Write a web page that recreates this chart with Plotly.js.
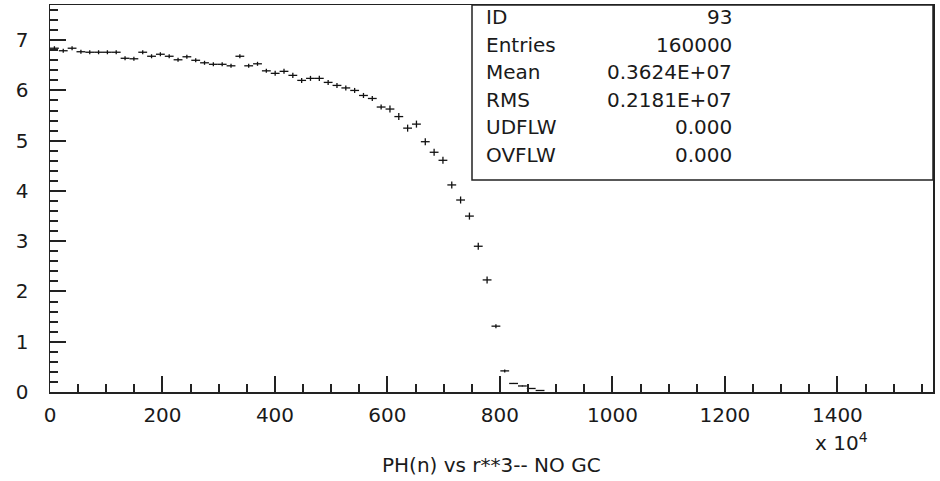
<!DOCTYPE html>
<html>
<head>
<meta charset="utf-8">
<script src="https://cdn.plot.ly/plotly-3.0.1.min.js"></script>
<style>
html,body{margin:0;padding:0;background:#fff;}
#chart{width:940px;height:481px;}
</style>
</head>
<body>
<div id="chart"></div>
<script>
var binCenters = [7.85,23.55,39.25,54.95,70.65,86.35,102.05,117.75,133.45,149.15,
  164.85,180.55,196.25,211.95,227.65,243.35,259.05,274.75,290.45,306.15,
  321.85,337.55,353.25,368.95,384.65,400.35,416.05,431.75,447.45,463.15,
  478.85,494.55,510.25,525.95,541.65,557.35,573.05,588.75,604.45,620.15,
  635.85,651.55,667.25,682.95,698.65,714.35,730.05,745.75,761.45,777.15,
  792.85,808.55,824.25,839.95,855.65,871.35];
var contents = [6.84,6.79,6.84,6.77,6.76,6.76,6.76,6.76,6.64,6.63,
  6.76,6.68,6.72,6.68,6.61,6.67,6.60,6.55,6.52,6.52,
  6.49,6.68,6.49,6.53,6.39,6.34,6.38,6.30,6.20,6.24,
  6.24,6.16,6.10,6.05,6.00,5.90,5.84,5.67,5.63,5.48,
  5.25,5.33,4.98,4.77,4.61,4.12,3.82,3.50,2.90,2.23,
  1.31,0.42,0.17,0.12,0.07,0.03];
var errors = [0.04,0.04,0.04,0.04,0.04,0.04,0.04,0.04,0.04,0.04,
  0.04,0.04,0.04,0.04,0.04,0.04,0.04,0.04,0.04,0.04,
  0.04,0.04,0.04,0.04,0.04,0.05,0.05,0.05,0.05,0.05,
  0.05,0.05,0.05,0.05,0.05,0.05,0.05,0.05,0.07,0.07,
  0.07,0.07,0.07,0.07,0.07,0.07,0.07,0.07,0.07,0.07,
  0.04,0.03,0.01,0.01,0.01,0.01];
var halfBin = 7.85;

var statLabels = ['ID','Entries','Mean','RMS','UDFLW','OVFLW'];
var statValues = ['93','160000','0.3624E+07','0.2181E+07','0.000','0.000'];
var xTitle = 'PH(n) vs r**3-- NO GC';
var xExponent = 'x 10<sup>4</sup>';

var FONT = 'DejaVu Sans, Liberation Sans, sans-serif';
var TXT = '#1a1a1a';

var trace = {
  type: 'scatter', mode: 'markers', x: binCenters, y: contents,
  marker: {size: 1, color: 'rgba(0,0,0,0)'},
  error_x: {type: 'constant', value: halfBin, color: '#111', thickness: 1.3, width: 0},
  error_y: {type: 'data', array: errors, color: '#111', thickness: 1.3, width: 0},
  hoverinfo: 'skip', showlegend: false
};

var L = 50, R = 933, T = 5, B = 392;
function px(p){ return (p - L) / (R - L); }
function py(p){ return (B - p) / (B - T); }

var annotations = [];
var rowY = [17, 44.5, 72, 99.5, 127, 154.5];
for (var i = 0; i < statLabels.length; i++) {
  annotations.push({xref:'paper', yref:'paper', x: px(484), y: py(rowY[i]),
    xanchor:'left', yanchor:'middle', showarrow:false, text: statLabels[i],
    font:{family: FONT, size: 20, color: TXT}});
  annotations.push({xref:'paper', yref:'paper', x: px(734), y: py(rowY[i]),
    xanchor:'right', yanchor:'middle', showarrow:false, text: statValues[i],
    font:{family: FONT, size: 20, color: TXT}});
}
annotations.push({xref:'paper', yref:'paper', x: px(491), y: py(465),
  xanchor:'center', yanchor:'middle', showarrow:false, text: xTitle,
  font:{family: FONT, size: 20, color: TXT}});
annotations.push({xref:'paper', yref:'paper', x: px(813), y: py(442),
  xanchor:'left', yanchor:'middle', showarrow:false, text: xExponent,
  font:{family: FONT, size: 20, color: TXT}});

var layout = {
  width: 940, height: 481,
  margin: {l: L, r: 940 - R, t: T, b: 481 - B, pad: 0},
  paper_bgcolor: '#fff', plot_bgcolor: '#fff',
  showlegend: false,
  font: {family: FONT, size: 20, color: TXT},
  xaxis: {
    range: [0, 1570], showgrid: false, zeroline: false,
    showline: true, linecolor: '#222', linewidth: 1.5, mirror: true,
    tickmode: 'linear', tick0: 0, dtick: 200,
    ticks: 'inside', ticklen: 16, tickwidth: 2, tickcolor: '#222',
    tickfont: {family: FONT, size: 20, color: TXT},
    ticklabelstandoff: 4,
    minor: {ticks: 'inside', ticklen: 8, tickwidth: 2, tickcolor: '#222', dtick: 50, showgrid: false}
  },
  yaxis: {
    range: [0, 7.7], showgrid: false, zeroline: false,
    showline: true, linecolor: '#222', linewidth: 1.5, mirror: true,
    tickmode: 'linear', tick0: 0, dtick: 1,
    ticks: 'inside', ticklen: 16, tickwidth: 2, tickcolor: '#222',
    tickfont: {family: FONT, size: 20, color: TXT},
    ticklabelstandoff: 16,
    minor: {ticks: 'inside', ticklen: 8, tickwidth: 2, tickcolor: '#222', dtick: 0.2, showgrid: false}
  },
  shapes: [{type:'rect', xref:'paper', yref:'paper', x0: px(472), x1: 1, y0: py(180), y1: 1,
    line:{color:'#222', width:1.5}, fillcolor:'rgba(255,255,255,0)'}],
  annotations: annotations
};

Plotly.newPlot('chart', [trace], layout, {displayModeBar: false, staticPlot: true});
</script>
</body>
</html>
